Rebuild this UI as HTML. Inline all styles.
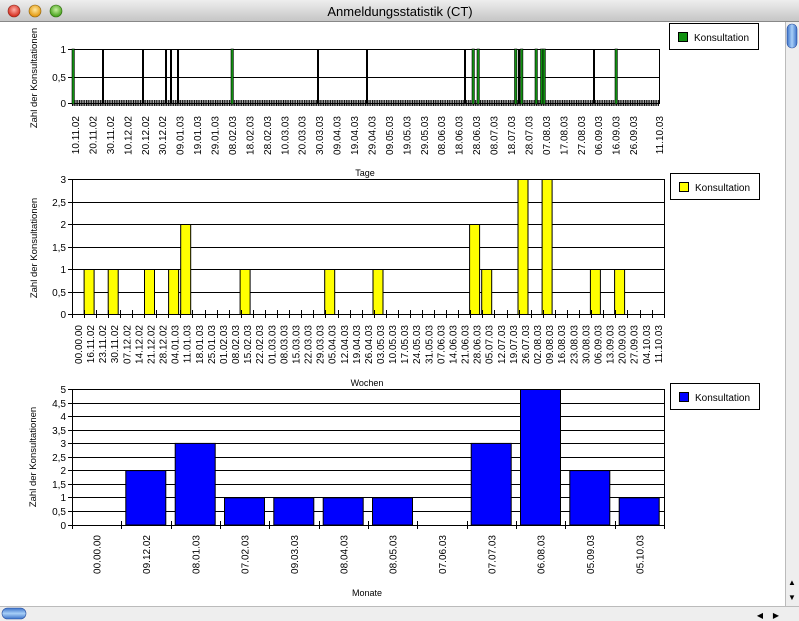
<!DOCTYPE html>
<html><head><meta charset="utf-8"><style>
html,body{margin:0;padding:0;width:799px;height:621px;overflow:hidden;background:#fff}
svg{display:block}
text{font-family:"Liberation Sans",sans-serif;font-size:10px;fill:#000}
.yt{font-size:9.5px}
</style></head><body>
<svg width="799" height="621" viewBox="0 0 799 621">
<defs>
<linearGradient id="tb" x1="0" y1="0" x2="0" y2="1"><stop offset="0" stop-color="#eeeeee"/><stop offset="1" stop-color="#c4c4c4"/></linearGradient>
<radialGradient id="rR" cx="0.5" cy="0.4" r="0.6"><stop offset="0" stop-color="#ffb0a8"/><stop offset="1" stop-color="#d02010"/></radialGradient>
<radialGradient id="rY" cx="0.5" cy="0.4" r="0.6"><stop offset="0" stop-color="#ffe8a0"/><stop offset="1" stop-color="#e09000"/></radialGradient>
<radialGradient id="rG" cx="0.5" cy="0.4" r="0.6"><stop offset="0" stop-color="#c8f0a0"/><stop offset="1" stop-color="#3a9a10"/></radialGradient>
<linearGradient id="blu" x1="0" y1="0" x2="1" y2="0"><stop offset="0" stop-color="#3a70c8"/><stop offset="0.5" stop-color="#a8d0f8"/><stop offset="1" stop-color="#3a70c8"/></linearGradient>
<linearGradient id="bluh" x1="0" y1="0" x2="0" y2="1"><stop offset="0" stop-color="#3a70c8"/><stop offset="0.5" stop-color="#a8d0f8"/><stop offset="1" stop-color="#3a70c8"/></linearGradient>
<pattern id="hatch" x="72" y="0" width="1.744" height="10" patternUnits="userSpaceOnUse"><rect x="0" y="0" width="1.1" height="10" fill="#000"/></pattern>
</defs>
<rect x="0" y="0" width="799" height="22" fill="url(#tb)"/>
<line x1="0" y1="21.5" x2="799" y2="21.5" stroke="#888"/>
<circle cx="14" cy="11" r="6" fill="url(#rR)" stroke="#8a2a20" stroke-width="0.6"/>
<circle cx="35" cy="11" r="6" fill="url(#rY)" stroke="#8a6010" stroke-width="0.6"/>
<circle cx="56" cy="11" r="6" fill="url(#rG)" stroke="#306a10" stroke-width="0.6"/>
<text x="400" y="16" text-anchor="middle" style="font-size:13px">Anmeldungsstatistik (CT)</text>
<rect x="785" y="22" width="14" height="584" fill="#eeeeee"/>
<line x1="785.5" y1="22" x2="785.5" y2="606" stroke="#bbb"/>
<rect x="787" y="24" width="10" height="24" rx="5" fill="url(#blu)" stroke="#2a50a0" stroke-width="0.6"/>
<text x="792" y="585" text-anchor="middle" style="font-size:8px">▲</text>
<text x="792" y="600" text-anchor="middle" style="font-size:8px">▼</text>
<rect x="0" y="606" width="799" height="15" fill="#eeeeee"/>
<line x1="0" y1="606.5" x2="799" y2="606.5" stroke="#bbb"/>
<rect x="2" y="608" width="24" height="11" rx="5.5" fill="url(#bluh)" stroke="#2a50a0" stroke-width="0.6"/>
<text x="760" y="618" text-anchor="middle" style="font-size:8px">◀</text>
<text x="776" y="618" text-anchor="middle" style="font-size:8px">▶</text>

<g stroke="#000" stroke-width="1">
<rect x="72.5" y="49.5" width="587" height="54" fill="none"/>
<line x1="72" y1="77.5" x2="659" y2="77.5"/>
<line x1="68" y1="49.5" x2="72" y2="49.5"/><line x1="68" y1="77.5" x2="72" y2="77.5"/><line x1="68" y1="103.5" x2="72" y2="103.5"/>
</g>
<rect x="72" y="100" width="587" height="6" fill="url(#hatch)"/>
<g stroke="#000" stroke-width="2">
<line x1="103" y1="49" x2="103" y2="104"/><line x1="143" y1="49" x2="143" y2="104"/><line x1="166" y1="49" x2="166" y2="104"/><line x1="171" y1="49" x2="171" y2="104"/><line x1="178" y1="49" x2="178" y2="104"/><line x1="318" y1="49" x2="318" y2="104"/><line x1="367" y1="49" x2="367" y2="104"/><line x1="465" y1="49" x2="465" y2="104"/><line x1="519" y1="49" x2="519" y2="104"/><line x1="594" y1="49" x2="594" y2="104"/>
</g>
<g fill="#109010" stroke="#000" stroke-width="0.6">
<rect x="72" y="49" width="2.4" height="55"/><rect x="231" y="49" width="2.4" height="55"/><rect x="472" y="49" width="2.4" height="55"/><rect x="477" y="49" width="2.4" height="55"/><rect x="514.5" y="49" width="2.4" height="55"/><rect x="520.5" y="49" width="2.4" height="55"/><rect x="535" y="49" width="2.4" height="55"/><rect x="540.5" y="49" width="2.4" height="55"/><rect x="543" y="49" width="2.4" height="55"/><rect x="615" y="49" width="2.4" height="55"/>
</g>
<text x="66" y="53" text-anchor="end">1</text>
<text x="66" y="81" text-anchor="end">0,5</text>
<text x="66" y="107" text-anchor="end">0</text>
<text class="yt" transform="translate(37,78) rotate(-90)" text-anchor="middle">Zahl der Konsultationen</text>
<g text-anchor="end">
<text transform="translate(79.0,116) rotate(-90)">10.11.02</text>
<text transform="translate(96.4,116) rotate(-90)">20.11.02</text>
<text transform="translate(113.9,116) rotate(-90)">30.11.02</text>
<text transform="translate(131.3,116) rotate(-90)">10.12.02</text>
<text transform="translate(148.8,116) rotate(-90)">20.12.02</text>
<text transform="translate(166.2,116) rotate(-90)">30.12.02</text>
<text transform="translate(183.6,116) rotate(-90)">09.01.03</text>
<text transform="translate(201.1,116) rotate(-90)">19.01.03</text>
<text transform="translate(218.5,116) rotate(-90)">29.01.03</text>
<text transform="translate(236.0,116) rotate(-90)">08.02.03</text>
<text transform="translate(253.4,116) rotate(-90)">18.02.03</text>
<text transform="translate(270.8,116) rotate(-90)">28.02.03</text>
<text transform="translate(288.3,116) rotate(-90)">10.03.03</text>
<text transform="translate(305.7,116) rotate(-90)">20.03.03</text>
<text transform="translate(323.2,116) rotate(-90)">30.03.03</text>
<text transform="translate(340.6,116) rotate(-90)">09.04.03</text>
<text transform="translate(358.0,116) rotate(-90)">19.04.03</text>
<text transform="translate(375.5,116) rotate(-90)">29.04.03</text>
<text transform="translate(392.9,116) rotate(-90)">09.05.03</text>
<text transform="translate(410.4,116) rotate(-90)">19.05.03</text>
<text transform="translate(427.8,116) rotate(-90)">29.05.03</text>
<text transform="translate(445.2,116) rotate(-90)">08.06.03</text>
<text transform="translate(462.7,116) rotate(-90)">18.06.03</text>
<text transform="translate(480.1,116) rotate(-90)">28.06.03</text>
<text transform="translate(497.6,116) rotate(-90)">08.07.03</text>
<text transform="translate(515.0,116) rotate(-90)">18.07.03</text>
<text transform="translate(532.4,116) rotate(-90)">28.07.03</text>
<text transform="translate(549.9,116) rotate(-90)">07.08.03</text>
<text transform="translate(567.3,116) rotate(-90)">17.08.03</text>
<text transform="translate(584.8,116) rotate(-90)">27.08.03</text>
<text transform="translate(602.2,116) rotate(-90)">06.09.03</text>
<text transform="translate(619.6,116) rotate(-90)">16.09.03</text>
<text transform="translate(637.1,116) rotate(-90)">26.09.03</text>
<text transform="translate(663,116) rotate(-90)">11.10.03</text>
</g>
<rect x="669.5" y="23.5" width="89" height="26" fill="#fff" stroke="#000"/>
<rect x="678.5" y="32.5" width="9" height="9" fill="#109010" stroke="#000"/>
<text x="694" y="41">Konsultation</text>

<text x="365" y="176" text-anchor="middle" style="font-size:9px">Tage</text>
<g stroke="#000" stroke-width="1">
<line x1="72" y1="179.5" x2="664" y2="179.5"/><line x1="72" y1="202.5" x2="664" y2="202.5"/><line x1="72" y1="224.5" x2="664" y2="224.5"/><line x1="72" y1="247.5" x2="664" y2="247.5"/><line x1="72" y1="269.5" x2="664" y2="269.5"/><line x1="72" y1="292.5" x2="664" y2="292.5"/><line x1="68" y1="314.5" x2="665" y2="314.5"/>
<line x1="72.5" y1="179" x2="72.5" y2="318"/><line x1="664.5" y1="179" x2="664.5" y2="318"/>
<line x1="68" y1="179.5" x2="72" y2="179.5"/><line x1="68" y1="202.5" x2="72" y2="202.5"/><line x1="68" y1="224.5" x2="72" y2="224.5"/><line x1="68" y1="247.5" x2="72" y2="247.5"/><line x1="68" y1="269.5" x2="72" y2="269.5"/><line x1="68" y1="292.5" x2="72" y2="292.5"/>
</g>
<g fill="#ffff00" stroke="#000" stroke-width="1">
<rect x="84.1" y="269.5" width="10" height="45"/><rect x="108.2" y="269.5" width="10" height="45"/><rect x="144.5" y="269.5" width="10" height="45"/><rect x="168.6" y="269.5" width="10" height="45"/><rect x="180.7" y="224.5" width="10" height="90"/><rect x="240.1" y="269.5" width="10" height="45"/><rect x="324.7" y="269.5" width="10" height="45"/><rect x="373.0" y="269.5" width="10" height="45"/><rect x="469.6" y="224.5" width="10" height="90"/><rect x="481.7" y="269.5" width="10" height="45"/><rect x="518.0" y="179.5" width="10" height="135"/><rect x="542.1" y="179.5" width="10" height="135"/><rect x="590.4" y="269.5" width="10" height="45"/><rect x="614.6" y="269.5" width="10" height="45"/>
</g>
<g stroke="#000" stroke-width="1">
<path d="M84.5 310v8M96.5 310v8M108.5 310v8M120.5 310v8M132.5 310v8M144.5 310v8M156.5 310v8M168.5 310v8M180.5 310v8M192.5 310v8M205.5 310v8M217.5 310v8M229.5 310v8M241.5 310v8M253.5 310v8M265.5 310v8M277.5 310v8M289.5 310v8M301.5 310v8M313.5 310v8M325.5 310v8M338.5 310v8M350.5 310v8M362.5 310v8M374.5 310v8M386.5 310v8M398.5 310v8M410.5 310v8M422.5 310v8M434.5 310v8M446.5 310v8M458.5 310v8M470.5 310v8M482.5 310v8M494.5 310v8M507.5 310v8M519.5 310v8M531.5 310v8M543.5 310v8M555.5 310v8M567.5 310v8M579.5 310v8M591.5 310v8M603.5 310v8M615.5 310v8M627.5 310v8M640.5 310v8M652.5 310v8"/>
</g>
<text x="66" y="183" text-anchor="end">3</text>
<text x="66" y="206" text-anchor="end">2,5</text>
<text x="66" y="228" text-anchor="end">2</text>
<text x="66" y="251" text-anchor="end">1,5</text>
<text x="66" y="273" text-anchor="end">1</text>
<text x="66" y="296" text-anchor="end">0,5</text>
<text x="66" y="318" text-anchor="end">0</text>
<text class="yt" transform="translate(37,248) rotate(-90)" text-anchor="middle">Zahl der Konsultationen</text>
<g text-anchor="end">
<text transform="translate(82.0,325) rotate(-90)">00.00.00</text>
<text transform="translate(94.1,325) rotate(-90)">16.11.02</text>
<text transform="translate(106.2,325) rotate(-90)">23.11.02</text>
<text transform="translate(118.2,325) rotate(-90)">30.11.02</text>
<text transform="translate(130.3,325) rotate(-90)">07.12.02</text>
<text transform="translate(142.4,325) rotate(-90)">14.12.02</text>
<text transform="translate(154.5,325) rotate(-90)">21.12.02</text>
<text transform="translate(166.6,325) rotate(-90)">28.12.02</text>
<text transform="translate(178.6,325) rotate(-90)">04.01.03</text>
<text transform="translate(190.7,325) rotate(-90)">11.01.03</text>
<text transform="translate(202.8,325) rotate(-90)">18.01.03</text>
<text transform="translate(214.9,325) rotate(-90)">25.01.03</text>
<text transform="translate(227.0,325) rotate(-90)">01.02.03</text>
<text transform="translate(239.0,325) rotate(-90)">08.02.03</text>
<text transform="translate(251.1,325) rotate(-90)">15.02.03</text>
<text transform="translate(263.2,325) rotate(-90)">22.02.03</text>
<text transform="translate(275.3,325) rotate(-90)">01.03.03</text>
<text transform="translate(287.4,325) rotate(-90)">08.03.03</text>
<text transform="translate(299.4,325) rotate(-90)">15.03.03</text>
<text transform="translate(311.5,325) rotate(-90)">22.03.03</text>
<text transform="translate(323.6,325) rotate(-90)">29.03.03</text>
<text transform="translate(335.7,325) rotate(-90)">05.04.03</text>
<text transform="translate(347.8,325) rotate(-90)">12.04.03</text>
<text transform="translate(359.8,325) rotate(-90)">19.04.03</text>
<text transform="translate(371.9,325) rotate(-90)">26.04.03</text>
<text transform="translate(384.0,325) rotate(-90)">03.05.03</text>
<text transform="translate(396.1,325) rotate(-90)">10.05.03</text>
<text transform="translate(408.2,325) rotate(-90)">17.05.03</text>
<text transform="translate(420.2,325) rotate(-90)">24.05.03</text>
<text transform="translate(432.3,325) rotate(-90)">31.05.03</text>
<text transform="translate(444.4,325) rotate(-90)">07.06.03</text>
<text transform="translate(456.5,325) rotate(-90)">14.06.03</text>
<text transform="translate(468.6,325) rotate(-90)">21.06.03</text>
<text transform="translate(480.6,325) rotate(-90)">28.06.03</text>
<text transform="translate(492.7,325) rotate(-90)">05.07.03</text>
<text transform="translate(504.8,325) rotate(-90)">12.07.03</text>
<text transform="translate(516.9,325) rotate(-90)">19.07.03</text>
<text transform="translate(529.0,325) rotate(-90)">26.07.03</text>
<text transform="translate(541.0,325) rotate(-90)">02.08.03</text>
<text transform="translate(553.1,325) rotate(-90)">09.08.03</text>
<text transform="translate(565.2,325) rotate(-90)">16.08.03</text>
<text transform="translate(577.3,325) rotate(-90)">23.08.03</text>
<text transform="translate(589.4,325) rotate(-90)">30.08.03</text>
<text transform="translate(601.4,325) rotate(-90)">06.09.03</text>
<text transform="translate(613.5,325) rotate(-90)">13.09.03</text>
<text transform="translate(625.6,325) rotate(-90)">20.09.03</text>
<text transform="translate(637.7,325) rotate(-90)">27.09.03</text>
<text transform="translate(649.8,325) rotate(-90)">04.10.03</text>
<text transform="translate(661.8,325) rotate(-90)">11.10.03</text>
</g>
<rect x="670.5" y="173.5" width="89" height="26" fill="#fff" stroke="#000"/>
<rect x="679.5" y="182.5" width="9" height="9" fill="#ffff00" stroke="#000"/>
<text x="695" y="191">Konsultation</text>

<text x="367" y="386" text-anchor="middle" style="font-size:9px">Wochen</text>
<g stroke="#000" stroke-width="1">
<line x1="72" y1="389.5" x2="664" y2="389.5"/><line x1="72" y1="403.5" x2="664" y2="403.5"/><line x1="72" y1="416.5" x2="664" y2="416.5"/><line x1="72" y1="430.5" x2="664" y2="430.5"/><line x1="72" y1="443.5" x2="664" y2="443.5"/><line x1="72" y1="457.5" x2="664" y2="457.5"/><line x1="72" y1="470.5" x2="664" y2="470.5"/><line x1="72" y1="484.5" x2="664" y2="484.5"/><line x1="72" y1="497.5" x2="664" y2="497.5"/><line x1="72" y1="511.5" x2="664" y2="511.5"/><line x1="68" y1="525.5" x2="665" y2="525.5"/>
<line x1="72.5" y1="389" x2="72.5" y2="529"/><line x1="664.5" y1="389" x2="664.5" y2="529"/>
<path d="M68 389.5h4M68 403.5h4M68 416.5h4M68 430.5h4M68 443.5h4M68 457.5h4M68 470.5h4M68 484.5h4M68 497.5h4M68 511.5h4"/>
</g>
<g fill="#0000ff" stroke="#000" stroke-width="1">
<rect x="125.8" y="470.6" width="40" height="54.4"/><rect x="175.2" y="443.4" width="40" height="81.6"/><rect x="224.5" y="497.8" width="40" height="27.2"/><rect x="273.8" y="497.8" width="40" height="27.2"/><rect x="323.2" y="497.8" width="40" height="27.2"/><rect x="372.5" y="497.8" width="40" height="27.2"/><rect x="471.2" y="443.4" width="40" height="81.6"/><rect x="520.5" y="389.5" width="40" height="135.5"/><rect x="569.8" y="470.6" width="40" height="54.4"/><rect x="619.2" y="497.8" width="40" height="27.2"/>
</g>
<g stroke="#000" stroke-width="1">
<path d="M121.5 521v8M171.5 521v8M220.5 521v8M269.5 521v8M319.5 521v8M368.5 521v8M417.5 521v8M467.5 521v8M516.5 521v8M565.5 521v8M615.5 521v8"/>
</g>
<text x="66" y="393" text-anchor="end">5</text>
<text x="66" y="407" text-anchor="end">4,5</text>
<text x="66" y="420" text-anchor="end">4</text>
<text x="66" y="434" text-anchor="end">3,5</text>
<text x="66" y="447" text-anchor="end">3</text>
<text x="66" y="461" text-anchor="end">2,5</text>
<text x="66" y="474" text-anchor="end">2</text>
<text x="66" y="488" text-anchor="end">1,5</text>
<text x="66" y="501" text-anchor="end">1</text>
<text x="66" y="515" text-anchor="end">0,5</text>
<text x="66" y="529" text-anchor="end">0</text>
<text class="yt" transform="translate(36,457) rotate(-90)" text-anchor="middle">Zahl der Konsultationen</text>
<g text-anchor="end">
<text transform="translate(100.7,535) rotate(-90)">00.00.00</text>
<text transform="translate(150.0,535) rotate(-90)">09.12.02</text>
<text transform="translate(199.3,535) rotate(-90)">08.01.03</text>
<text transform="translate(248.7,535) rotate(-90)">07.02.03</text>
<text transform="translate(298.0,535) rotate(-90)">09.03.03</text>
<text transform="translate(347.3,535) rotate(-90)">08.04.03</text>
<text transform="translate(396.7,535) rotate(-90)">08.05.03</text>
<text transform="translate(446.0,535) rotate(-90)">07.06.03</text>
<text transform="translate(495.3,535) rotate(-90)">07.07.03</text>
<text transform="translate(544.7,535) rotate(-90)">06.08.03</text>
<text transform="translate(594.0,535) rotate(-90)">05.09.03</text>
<text transform="translate(643.3,535) rotate(-90)">05.10.03</text>
</g>
<text x="367" y="596" text-anchor="middle" style="font-size:9px">Monate</text>
<rect x="670.5" y="383.5" width="89" height="26" fill="#fff" stroke="#000"/>
<rect x="679.5" y="392.5" width="9" height="9" fill="#0000ff" stroke="#000"/>
<text x="695" y="401">Konsultation</text>
</svg>
</body></html>
